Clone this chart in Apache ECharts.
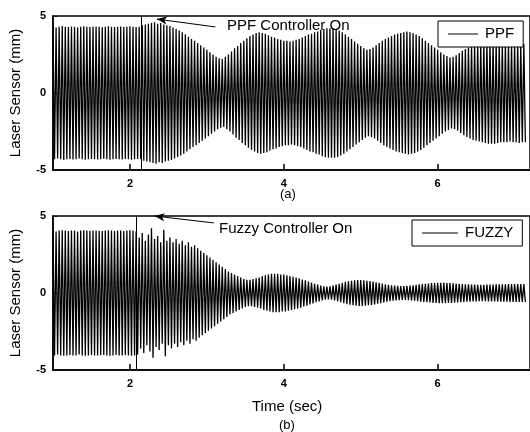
<!DOCTYPE html>
<html><head><meta charset="utf-8">
<script src="https://cdn.jsdelivr.net/npm/echarts@6/dist/echarts.min.js"></script>
<style>html,body{margin:0;padding:0;background:#fff}#c{width:530px;height:432px}</style>
</head><body><div id="c"></div>
<script>
// time grid: one oscillation cycle every 0.04 s starting at t = 1.0 s
const T0 = 1.0;
const STEP = 0.04;

// Panel (a) PPF: peak amplitude (mm) per cycle
const ppfAmp = [
  4.30,4.25,4.30,4.35,4.30,4.28,4.32,4.30,4.26,4.30,4.34,4.30,4.28,4.30,4.32,4.30,4.27,4.30,4.33,4.30,4.29,4.30,4.31,4.28,4.30,4.33,4.30,4.28,4.30,
  4.40,4.45,4.50,4.55,4.60,4.50,4.55,4.45,4.40,4.35,4.25,4.15,4.05,3.95,3.80,3.65,3.50,3.40,3.25,3.10,2.95,2.80,2.65,2.50,2.35,2.25,
  2.20,2.35,2.50,2.70,2.90,3.05,3.25,3.40,3.55,3.70,3.80,3.90,3.95,3.90,3.85,3.75,3.65,3.60,3.50,3.45,3.40,3.40,3.35,3.40,3.45,
  3.50,3.60,3.70,3.80,3.85,3.95,4.00,4.10,4.15,4.20,4.20,4.20,4.15,4.05,3.95,3.80,3.65,3.50,3.35,3.20,3.05,2.90,2.80,2.85,2.95,
  3.10,3.25,3.40,3.50,3.60,3.70,3.80,3.85,3.90,3.95,4.00,3.95,3.90,3.80,3.70,3.55,3.40,3.25,3.10,2.95,2.80,2.65,2.50,2.40,2.30,
  2.35,2.45,2.60,2.75,2.85,2.95,3.05,3.10,3.15,3.20,3.25,3.30,3.30,3.30,3.25,3.20,3.20,3.20,3.15,3.20,3.20,3.25,3.20,3.20
];

// Panel (b) FUZZY: peak amplitude (mm) per cycle
const fuzzyAmp = [
  4.05,4.00,4.05,4.08,4.05,4.02,4.06,4.05,4.00,4.05,4.07,4.05,4.03,4.05,4.06,4.04,4.02,4.05,4.07,4.05,4.03,4.05,4.06,4.02,4.05,4.07,4.05,
  4.00,3.60,3.90,3.40,3.80,4.20,3.50,3.70,3.30,4.10,3.40,3.60,3.30,3.50,3.20,3.40,3.10,3.30,3.00,3.10,2.90,2.75,2.60,2.45,2.30,2.15,
  2.00,1.85,1.70,1.55,1.40,1.30,1.20,1.10,1.00,0.90,0.85,0.85,0.90,0.95,1.00,1.10,1.15,1.20,1.25,1.25,1.25,1.20,1.20,1.15,1.10,
  1.05,1.00,0.95,0.88,0.82,0.75,0.68,0.60,0.55,0.48,0.44,0.42,0.44,0.48,0.54,0.60,0.66,0.72,0.76,0.80,0.82,0.84,0.84,0.83,0.80,
  0.78,0.75,0.70,0.66,0.62,0.57,0.53,0.50,0.48,0.46,0.45,0.45,0.46,0.48,0.50,0.53,0.56,0.58,0.60,0.62,0.64,0.65,0.66,0.66,0.66,
  0.65,0.64,0.63,0.61,0.60,0.58,0.57,0.56,0.55,0.54,0.53,0.53,0.53,0.54,0.54,0.55,0.56,0.56,0.57,0.57,0.58,0.58,0.58,0.58,0.58,0.58
];

const yTicks = [-5, 0, 5];
const xMajor = [2, 4, 6];
const xMinor = [3, 5, 7];
const ppfOn = 2.15;     // controller switched on (s)
const fuzzyOn = 2.08;
// annotation arrows [tail, tip] in data units (t, mm)
const ppfArrow = [[3.11, 4.29], [2.35, 4.80]];
const fuzzyArrow = [[3.09, 4.55], [2.32, 5.00]];

function build(amps) {
  const d = [];
  amps.forEach((a, k) => {
    const t = T0 + k * STEP;
    d.push([t, a]);
    d.push([t + STEP / 2, -a]);
  });
  return d;
}

const FONT = 'Arial, "Liberation Sans", Helvetica, sans-serif';
const chart = echarts.init(document.getElementById('c'), null, {renderer: 'canvas'});

const grids = [
  {left: 52, top: 16, width: 487, height: 154},
  {left: 52, top: 216, width: 487, height: 154}
];

function xAxes(gi) {
  return [
    {gridIndex: gi, type: 'value', min: 1, max: 7.2, position: 'bottom',
     axisLine: {show: true, onZero: false, lineStyle: {color: '#000', width: 1.5}},
     axisTick: {show: true, inside: true, length: 6, customValues: xMajor, lineStyle: {color: '#000', width: 1.5}},
     axisLabel: {show: true, customValues: xMajor, color: '#000', fontFamily: FONT, fontWeight: 'bold', fontSize: 11, margin: 8},
     splitLine: {show: false}},
    {gridIndex: gi, type: 'value', min: 1, max: 7.2, position: 'bottom', offset: 0,
     axisLine: {show: false},
     axisTick: {show: true, inside: true, length: 3, customValues: xMinor, lineStyle: {color: '#000', width: 1.5}},
     axisLabel: {show: false}, splitLine: {show: false}}
  ];
}
function yAxis(gi) {
  return {gridIndex: gi, type: 'value', min: -5, max: 5, interval: 5,
    name: 'Laser Sensor (mm)', nameLocation: 'middle', nameGap: 30,
    nameTextStyle: {color: '#000', fontFamily: FONT, fontSize: 15},
    axisLine: {show: true, lineStyle: {color: '#000', width: 1.5}},
    axisTick: {show: true, inside: true, length: 4, customValues: yTicks, lineStyle: {color: '#000'}},
    axisLabel: {color: '#000', fontFamily: FONT, fontWeight: 'bold', fontSize: 11, margin: 7},
    splitLine: {show: false}};
}

function series(name, amps, gi, onT, arrow) {
  return {
    name: name, type: 'line', xAxisIndex: gi * 2, yAxisIndex: gi,
    data: build(amps), symbol: 'none', showSymbol: false, clip: true,
    lineStyle: {color: '#000', width: 1.3}, itemStyle: {color: '#000'},
    animation: false, silent: true,
    markLine: {
      silent: true, animation: false, symbol: 'none', label: {show: false},
      lineStyle: {color: '#000', width: 1, type: 'solid'},
      data: [
        {xAxis: onT},
        [{coord: arrow[0], symbol: 'none'}, {coord: arrow[1], symbol: 'arrow', symbolSize: [6, 10]}]
      ]
    }
  };
}

const legendCommon = {
  orient: 'horizontal', backgroundColor: '#fff', borderColor: '#000', borderWidth: 1,
  borderRadius: 0, icon: 'rect', itemWidth: 30, itemHeight: 1, itemGap: 0,
  itemStyle: {color: '#000'},
  textStyle: {color: '#000', fontFamily: FONT, fontSize: 15, padding: [0, 0, 0, 2], lineHeight: 16}
};

chart.setOption({
  backgroundColor: '#fff',
  animation: false,
  grid: grids.map(g => Object.assign({show: true, borderColor: '#000', borderWidth: 1.5, backgroundColor: 'transparent'}, g)),
  xAxis: [...xAxes(0), ...xAxes(1)],
  yAxis: [yAxis(0), yAxis(1)],
  legend: [
    Object.assign({}, legendCommon, {data: ['PPF'], left: 438, top: 21, padding: [5, 9, 5, 10]}),
    Object.assign({}, legendCommon, {data: ['FUZZY'], left: 412, top: 220, padding: [5, 9, 5, 10], itemWidth: 36})
  ],
  series: [
    series('PPF', ppfAmp, 0, ppfOn, ppfArrow),
    series('FUZZY', fuzzyAmp, 1, fuzzyOn, fuzzyArrow)
  ],
  graphic: [
    {type: 'text', left: 227, top: 18, style: {text: 'PPF Controller On', fill: '#000', font: '15px ' + FONT}},
    {type: 'text', left: 219, top: 221, style: {text: 'Fuzzy Controller On', fill: '#000', font: '15px ' + FONT}},
    {type: 'text', left: 280, top: 188, style: {text: '(a)', fill: '#000', font: '13px ' + FONT}},
    {type: 'text', left: 252, top: 399, style: {text: 'Time (sec)', fill: '#000', font: '15px ' + FONT}},
    {type: 'text', left: 279, top: 419, style: {text: '(b)', fill: '#000', font: '13px ' + FONT}}
  ]
});
</script></body></html>
